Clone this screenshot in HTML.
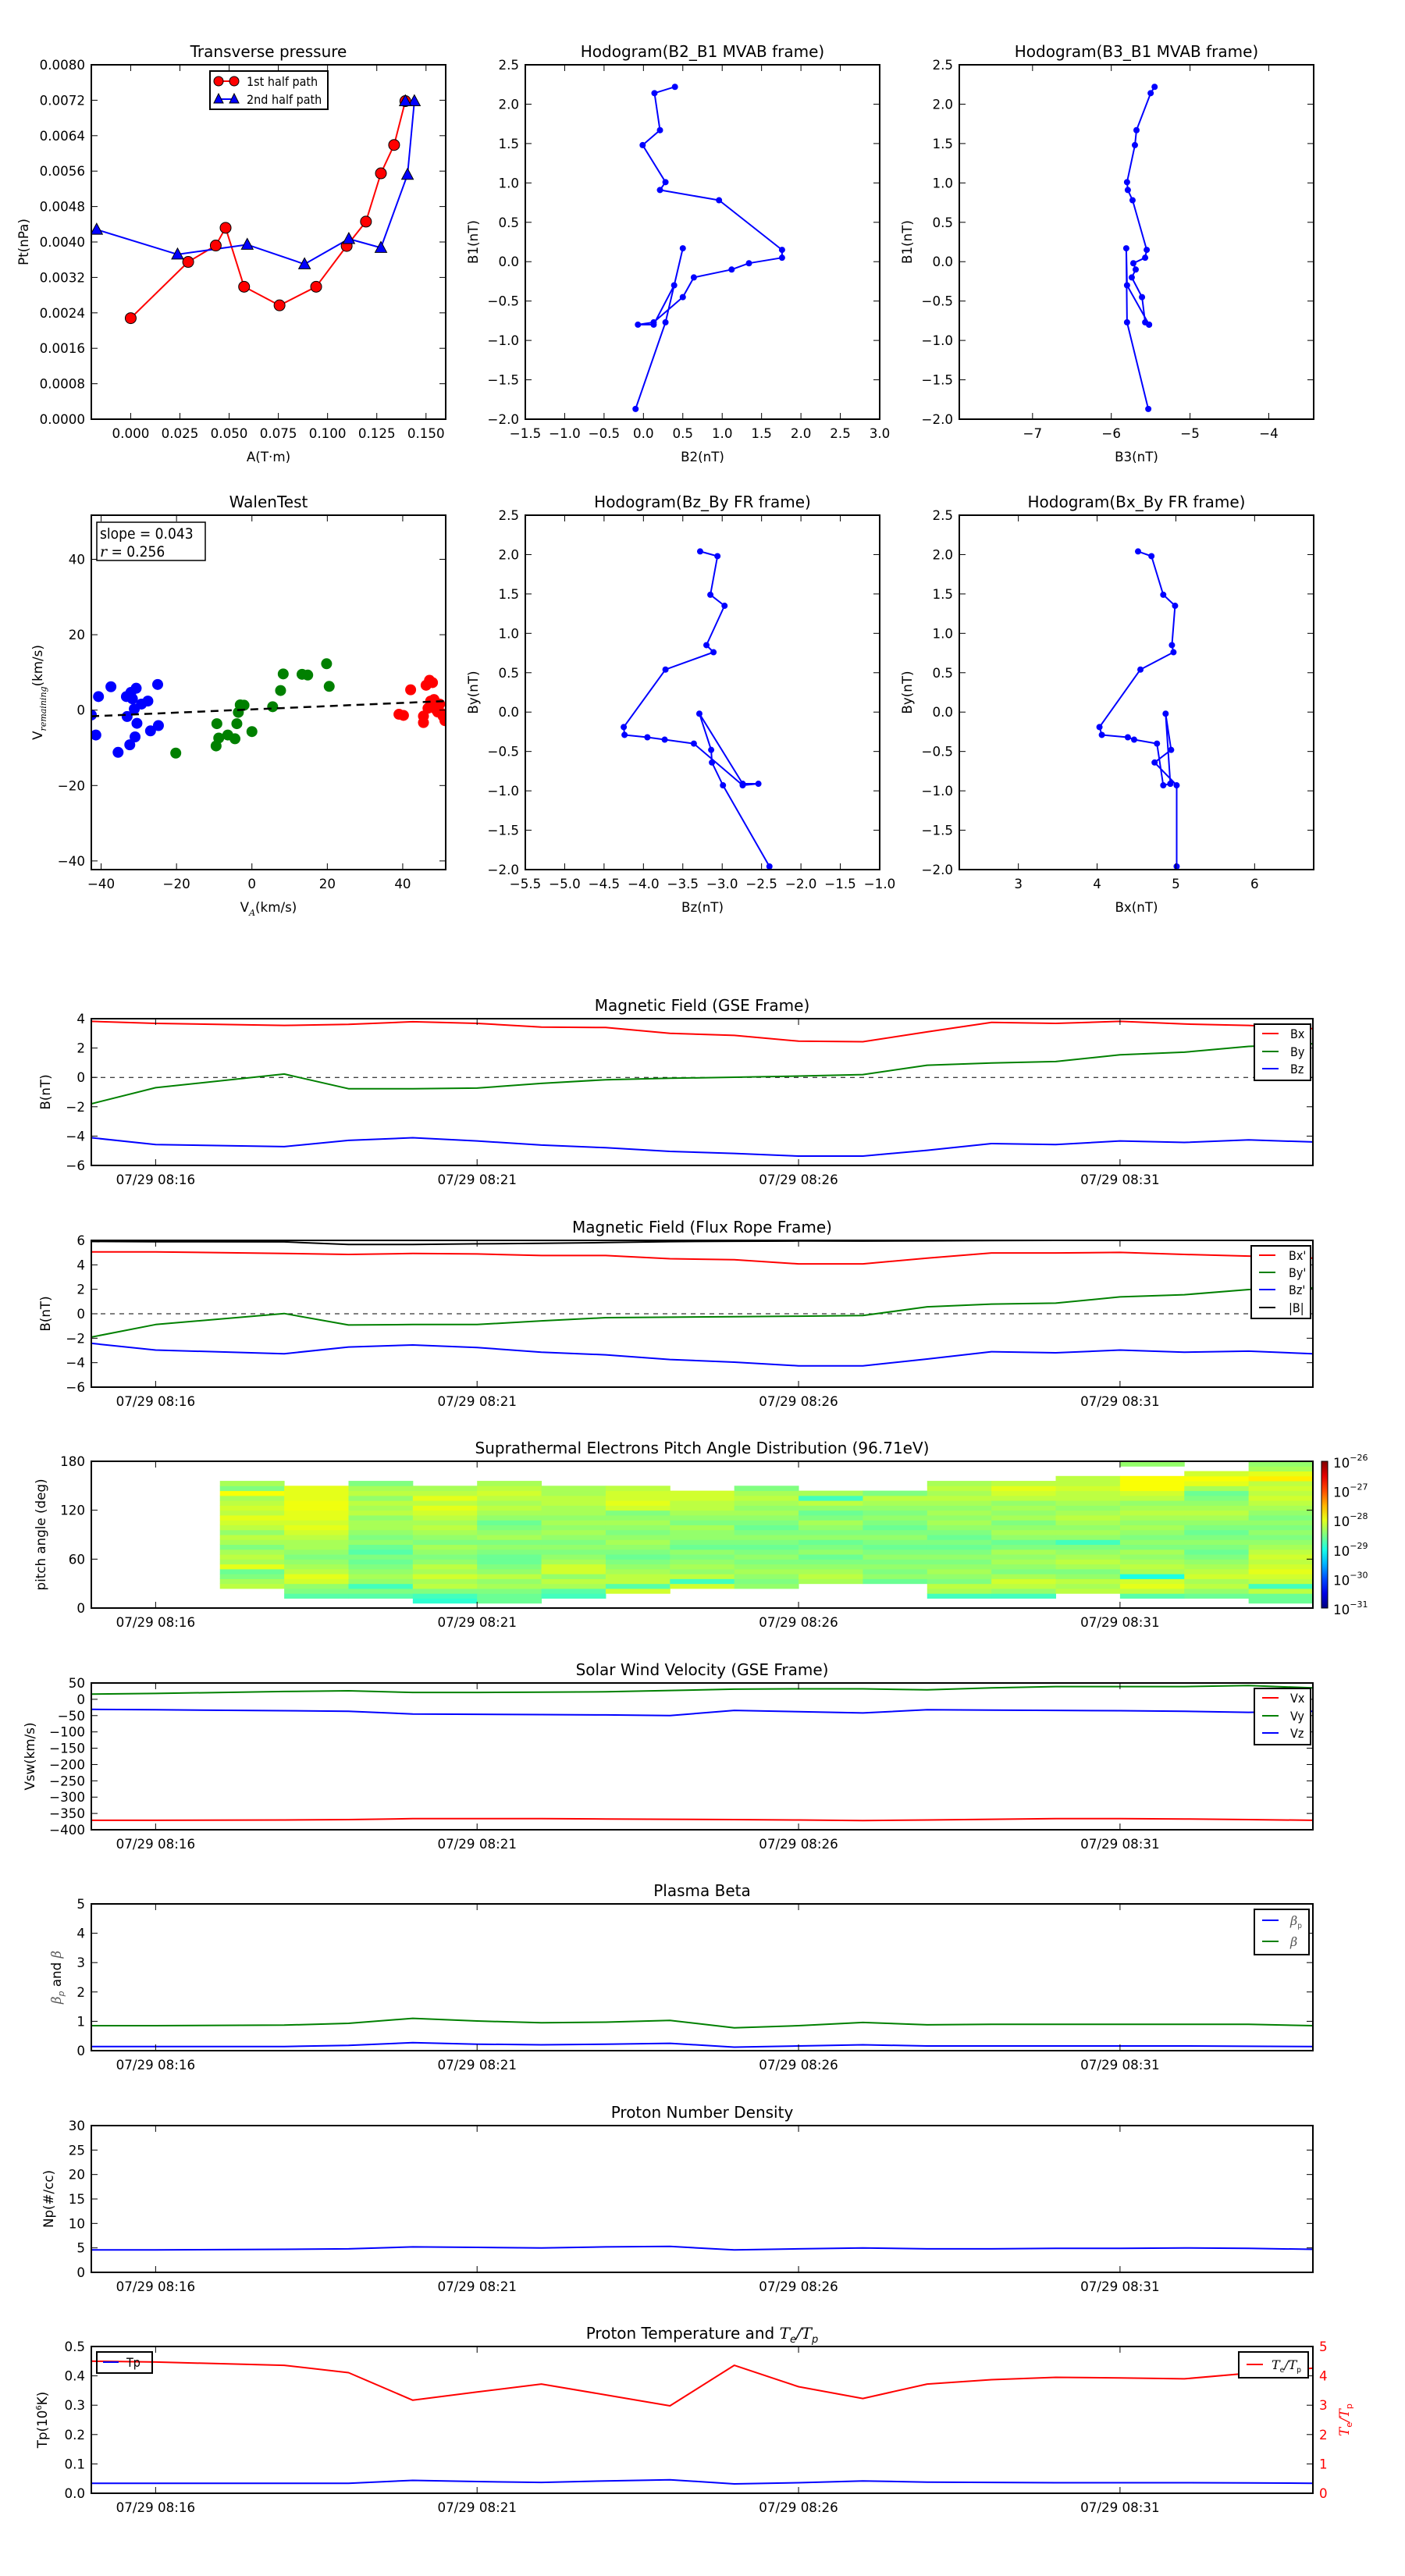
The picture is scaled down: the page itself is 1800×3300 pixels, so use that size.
<!DOCTYPE html>
<html><head><meta charset="utf-8"><title>Flux rope analysis</title>
<style>
html,body{margin:0;padding:0;background:#fff;}
svg{display:block;font-family:"DejaVu Sans","Liberation Sans",sans-serif;}
.tk{font-size:16.7px;}
.tt{font-size:20px;}
.lg{font-family:"DejaVu Sans Condensed","DejaVu Sans",sans-serif;font-size:16px;}
</style></head>
<body>
<svg id="fig" xmlns="http://www.w3.org/2000/svg" width="1800" height="3300" viewBox="0 0 1800 3300"></svg>
<script>
// ---------- data ----------
const pt1A=[0,0.0292,0.0432,0.0482,0.0576,0.0756,0.0942,0.1097,0.1195,0.1271,0.1338,0.1395];
const pt1P=[0.00228,0.00355,0.00392,0.00432,0.00299,0.00257,0.00299,0.00391,0.00446,0.00555,0.00619,0.00718];
const pt2A=[-0.0173,0.0238,0.0592,0.0883,0.1108,0.1271,0.1406,0.1441,0.1395];
const pt2P=[0.00428,0.00372,0.00394,0.00350,0.00407,0.00387,0.00552,0.00718,0.00718];
const mvB1=[2.22,2.14,1.67,1.48,1.01,0.91,0.78,0.15,0.05,-0.02,-0.10,-0.20,-0.45,-0.77,-0.80,-0.80,-0.30,0.17,-0.77,-1.87];
const mvB2=[0.40,0.14,0.21,-0.01,0.28,0.21,0.96,1.76,1.76,1.34,1.12,0.64,0.50,0.13,-0.07,0.13,0.39,0.50,0.28,-0.10];
const mvB3=[-5.45,-5.50,-5.68,-5.70,-5.80,-5.79,-5.73,-5.55,-5.57,-5.72,-5.69,-5.74,-5.61,-5.57,-5.52,-5.52,-5.80,-5.81,-5.80,-5.53];
const frBy=[2.04,1.98,1.49,1.35,0.85,0.76,0.54,-0.19,-0.29,-0.32,-0.35,-0.40,-0.93,-0.91,-0.91,-0.02,-0.48,-0.64,-0.93,-1.96];
const frBz=[-3.28,-3.06,-3.15,-2.97,-3.20,-3.11,-3.72,-4.25,-4.24,-3.95,-3.73,-3.36,-2.74,-2.54,-2.74,-3.29,-3.14,-3.13,-2.99,-2.40];
const frBx=[4.52,4.69,4.84,4.99,4.95,4.97,4.55,4.03,4.06,4.39,4.47,4.76,4.84,4.93,4.93,4.87,4.94,4.73,5.01,5.01];
const wBlueX=[-42.6,-41.4,-40.7,-37.4,-35.5,-33.3,-33.1,-32.4,-32.1,-31.7,-31.2,-31.0,-30.7,-30.5,-29.3,-27.6,-26.9,-25.0,-24.8];
const wBlueY=[-1.3,-6.6,3.6,6.2,-11.2,3.6,-1.7,-9.2,4.7,3.0,0.3,-7.1,5.8,-3.5,1.6,2.4,-5.5,6.8,-4.1];
const wGreenX=[-20.2,-9.5,-9.3,-8.8,-6.4,-4.5,-4.0,-3.6,-3.1,-2.1,0,5.5,7.6,8.3,13.3,14.8,19.8,20.5];
const wGreenY=[-11.4,-9.5,-3.6,-7.4,-6.6,-7.6,-3.6,-0.6,1.4,1.3,-5.7,0.9,5.2,9.6,9.5,9.3,12.3,6.3];
const wRedX=[39.0,40.2,42.1,45.5,45.5,46.2,46.7,47.1,47.4,47.9,48.3,48.8,49.3,49.8,50.2,50.7,51.2];
const wRedY=[-1.1,-1.4,5.4,-1.6,-3.3,6.6,0.5,7.9,2.4,7.3,2.8,0.2,-0.5,1.6,-0.8,-1.6,-2.8];
const walenSlope=0.043, walenIntercept=0.2;
const tMin=[0,1,3,4,5,6,7,8,9,10,11,12,13,14,15,16,17,18,19];
const timeTickMin=[1,6,11,16];
const timeTickLabels=["07/29 08:16","07/29 08:21","07/29 08:26","07/29 08:31"];
const gseBx=[3.82,3.68,3.54,3.61,3.79,3.68,3.43,3.40,3.0,2.86,2.47,2.43,3.1,3.75,3.68,3.82,3.64,3.54,3.32];
const gseBy=[-1.80,-0.70,0.23,-0.77,-0.77,-0.73,-0.41,-0.16,-0.06,0.01,0.09,0.19,0.83,0.98,1.08,1.54,1.72,2.11,2.29];
const gseBz=[-4.11,-4.58,-4.72,-4.29,-4.11,-4.33,-4.61,-4.79,-5.04,-5.18,-5.36,-5.36,-4.97,-4.51,-4.58,-4.33,-4.43,-4.26,-4.40];
const fBx=[5.06,5.06,4.93,4.85,4.93,4.89,4.76,4.76,4.50,4.42,4.08,4.08,4.55,4.97,4.97,5.02,4.85,4.72,4.55];
const fBy=[-1.91,-0.88,0.02,-0.92,-0.88,-0.88,-0.58,-0.32,-0.28,-0.24,-0.20,-0.15,0.57,0.79,0.87,1.38,1.56,1.98,2.11];
const fBz=[-2.42,-2.97,-3.27,-2.72,-2.55,-2.76,-3.15,-3.36,-3.74,-3.96,-4.26,-4.26,-3.70,-3.10,-3.19,-2.97,-3.15,-3.06,-3.27];
const fBt=[5.91,5.89,5.88,5.66,5.66,5.72,5.76,5.82,5.90,5.93,5.95,5.94,5.96,5.99,6.0,6.02,6.03,6.02,6.02];
const vx=[-371,-371,-370,-369,-366,-366,-366,-367,-368,-369,-370,-372,-370,-368,-366,-366,-367,-369,-371];
const vy=[16,18,24,26,21,21,22,23,27,31,32,32,29,35,39,39,39,42,35];
const vz=[-31,-32,-35,-37,-45,-46,-47,-48,-50,-34,-38,-42,-32,-33,-34,-35,-37,-40,-37];
const betaP=[0.14,0.14,0.14,0.18,0.27,0.22,0.20,0.22,0.25,0.12,0.16,0.20,0.16,0.16,0.16,0.16,0.16,0.15,0.14];
const betaT=[0.85,0.85,0.87,0.93,1.10,1.01,0.95,0.97,1.03,0.78,0.85,0.96,0.88,0.90,0.90,0.90,0.90,0.90,0.85];
const np=[4.6,4.6,4.7,4.8,5.2,5.1,5.0,5.2,5.3,4.6,4.8,5.0,4.8,4.8,4.9,4.9,5.0,4.9,4.7];
const tp=[0.034,0.034,0.034,0.034,0.044,0.040,0.037,0.042,0.046,0.032,0.036,0.042,0.038,0.037,0.036,0.036,0.036,0.035,0.034];
const teTp=[4.50,4.47,4.36,4.11,3.17,3.45,3.72,3.35,2.98,4.36,3.63,3.23,3.72,3.87,3.95,3.93,3.90,4.09,4.26];
// pitch angle: column start minute, lowest bin edge (deg), log10 flux per 6-deg bin bottom->top
const padStart=[2,3,4,5,6,7,8,9,10,11,12,13,14,15,16,17,18];
const padLo=[24,12,12,6,6,12,18,24,24,30,30,12,12,18,12,12,6];
const padVals=[
[-28.2,-28.3,-28.5,-28.6,-28.0,-28.3,-28.2,-28.3,-28.5,-28.3,-28.2,-28.4,-28.2,-28.1,-28.0,-28.2,-28.1,-28.2,-28.3,-27.9,-28.5,-28.3],
[-28.7,-28.5,-28.4,-28.1,-28.0,-28.2,-28.3,-28.4,-28.5,-28.4,-28.3,-28.3,-28.2,-28.1,-28.0,-28.1,-28.0,-28.0,-27.95,-27.95,-28.0,-28.0,-28.0],
[-28.7,-28.5,-28.8,-28.4,-28.3,-28.4,-28.5,-28.6,-28.5,-28.7,-28.6,-28.4,-28.5,-28.4,-28.3,-28.3,-28.4,-28.2,-28.3,-28.2,-28.4,-28.2,-28.3,-28.5],
[-28.9,-28.8,-28.5,-28.2,-28.3,-28.1,-28.3,-28.2,-28.4,-28.5,-28.4,-28.3,-28.5,-28.4,-28.3,-28.2,-28.3,-28.2,-28.1,-28.0,-28.2,-28.0,-28.2,-28.3],
[-28.6,-28.6,-28.5,-28.3,-28.4,-28.2,-28.4,-28.5,-28.6,-28.6,-28.5,-28.4,-28.5,-28.3,-28.4,-28.5,-28.6,-28.4,-28.3,-28.2,-28.3,-28.2,-28.1,-28.2,-28.3],
[-28.8,-28.7,-28.3,-28.2,-28.4,-28.1,-28.1,-28.3,-28.4,-28.5,-28.4,-28.5,-28.4,-28.3,-28.4,-28.3,-28.4,-28.3,-28.3,-28.2,-28.2,-28.3,-28.3],
[-28.1,-28.7,-28.2,-28.2,-28.3,-28.4,-28.5,-28.6,-28.5,-28.4,-28.3,-28.4,-28.5,-28.4,-28.3,-28.4,-28.5,-28.1,-28.0,-28.1,-28.1,-28.2],
[-28.1,-28.8,-28.2,-28.4,-28.3,-28.4,-28.5,-28.4,-28.6,-28.5,-28.4,-28.4,-28.3,-28.5,-28.4,-28.3,-28.2,-28.2,-28.1,-28.1],
[-28.4,-28.5,-28.4,-28.3,-28.4,-28.5,-28.4,-28.5,-28.6,-28.5,-28.4,-28.5,-28.6,-28.5,-28.4,-28.3,-28.4,-28.3,-28.2,-28.3,-28.5],
[-28.3,-28.2,-28.3,-28.4,-28.5,-28.6,-28.4,-28.5,-28.6,-28.4,-28.5,-28.4,-28.3,-28.5,-28.6,-28.4,-28.2,-28.8,-28.3],
[-28.6,-28.4,-28.5,-28.4,-28.5,-28.4,-28.5,-28.6,-28.5,-28.4,-28.5,-28.6,-28.5,-28.4,-28.5,-28.4,-28.3,-28.2,-28.5],
[-28.8,-28.3,-28.2,-28.5,-28.4,-28.3,-28.4,-28.5,-28.4,-28.5,-28.6,-28.5,-28.6,-28.5,-28.4,-28.3,-28.4,-28.3,-28.4,-28.3,-28.2,-28.3,-28.2,-28.3],
[-28.8,-28.4,-28.2,-28.1,-28.3,-28.5,-28.4,-28.3,-28.4,-28.3,-28.5,-28.6,-28.4,-28.3,-28.4,-28.5,-28.3,-28.4,-28.3,-28.4,-28.2,-28.1,-28.0,-28.2],
[-28.2,-28.3,-28.2,-28.4,-28.5,-28.3,-28.2,-28.3,-28.4,-28.5,-28.8,-28.4,-28.3,-28.4,-28.3,-28.2,-28.3,-28.4,-28.3,-28.2,-28.2,-28.1,-28.2,-28.2],
[-28.7,-28.2,-28.0,-28.1,-29.0,-28.3,-28.2,-28.3,-28.4,-28.3,-28.5,-28.4,-28.5,-28.4,-28.3,-28.4,-28.3,-28.2,-28.3,-28.4,-28.2,-28.1,-27.9,-27.9,-27.9,null,null,-28.4],
[-28.6,-28.4,-28.2,-28.3,-28.1,-28.2,-28.3,-28.4,-28.5,-28.6,-28.5,-28.4,-28.5,-28.6,-28.5,-28.4,-28.3,-28.2,-28.3,-28.4,-28.5,-28.6,-28.3,-28.0,-27.9,-28.1],
[-28.6,-28.6,-28.2,-28.8,-28.2,-28.1,-28.0,-28.1,-28.2,-28.1,-28.2,-28.3,-28.4,-28.5,-28.4,-28.5,-28.4,-28.5,-28.4,-28.3,-28.2,-28.1,-28.2,-28.1,-28.2,-27.8,-28.0,-28.3,-28.4]];
const cbTicks=[-26,-27,-28,-29,-30,-31];

// ---------- helpers ----------
const NS='http://www.w3.org/2000/svg';
const svg=document.getElementById('fig');
let clipId=0;
function mk(tag,attrs,parent){const e=document.createElementNS(NS,tag);for(const k in attrs)e.setAttribute(k,attrs[k]);(parent||svg).appendChild(e);return e;}
function fmt(v,d){let s=v.toFixed(d);if(v<0&&parseFloat(s)!==0)s='\u2212'+s.slice(1);else if(parseFloat(s)===0)s=(0).toFixed(d);return s;}
function makeAxes(name,x0,y0,w,h,xmin,xmax,ymin,ymax){
  const g=mk('g',{});
  
  
  const id='c'+(clipId++);
  const cp=mk('clipPath',{id:id},g);
  mk('rect',{x:x0,y:y0,width:w,height:h},cp);
  const plot=mk('g',{'clip-path':'url(#'+id+')'},g);
  
  
  return {g,plot,x0,y0,w,h,sx:v=>x0+(v-xmin)/(xmax-xmin)*w,sy:v=>y0+h-(v-ymin)/(ymax-ymin)*h};
}
function frame(ax,name){
  const r=mk('rect',{x:ax.x0,y:ax.y0,width:ax.w,height:ax.h,fill:'none',stroke:'#000','stroke-width':2},ax.g);
  
  
}
function xTicks(ax,vals,labels,name,noTop){
  const g=mk('g',{},ax.g);
  
  
  vals.forEach((v,i)=>{
    const x=ax.sx(v);
    mk('line',{x1:x,x2:x,y1:ax.y0+ax.h,y2:ax.y0+ax.h-8,stroke:'#000','stroke-width':1},g);
    if(!noTop)mk('line',{x1:x,x2:x,y1:ax.y0,y2:ax.y0+8,stroke:'#000','stroke-width':1},g);
    const t=mk('text',{x:x,y:ax.y0+ax.h+24,'text-anchor':'middle',class:'tk'},g);
    t.textContent=labels[i];
  });
}
function yTicks(ax,vals,labels,name,opts){
  opts=opts||{};
  const g=mk('g',{},ax.g);
  
  
  vals.forEach((v,i)=>{
    const y=ax.sy(v);
    mk('line',{x1:ax.x0,x2:ax.x0+8,y1:y,y2:y,stroke:'#000','stroke-width':1},g);
    if(!opts.noRight)mk('line',{x1:ax.x0+ax.w,x2:ax.x0+ax.w-8,y1:y,y2:y,stroke:'#000','stroke-width':1},g);
    const t=mk('text',{x:ax.x0-8,y:y+6,'text-anchor':'end',class:'tk'},g);
    t.textContent=labels[i];
  });
}
function title(ax,txt,name,dy){
  const t=mk('text',{x:ax.x0+ax.w/2,y:ax.y0-(dy||10),'text-anchor':'middle',class:'tt'},ax.g);
  t.textContent=txt;
  
  
  return t;
}
function xLabel(ax,txt,name){
  const t=mk('text',{x:ax.x0+ax.w/2,y:ax.y0+ax.h+54,'text-anchor':'middle',class:'tk'},ax.g);
  t.textContent=txt;
  
  
  return t;
}
function yLabel(ax,txt,name,x){
  const cy=ax.y0+ax.h/2;
  const t=mk('text',{x:x,y:cy,'text-anchor':'middle',class:'tk',transform:'rotate(-90 '+x+' '+cy+')'},ax.g);
  t.textContent=txt;
  
  
  return t;
}
function line(ax,xs,ys,color,name,w,dash){
  const pts=xs.map((x,i)=>ax.sx(x).toFixed(1)+','+ax.sy(ys[i]).toFixed(1)).join(' ');
  const p=mk('polyline',{points:pts,fill:'none',stroke:color,'stroke-width':w||2,'stroke-linejoin':'round'},ax.plot);
  if(dash)p.setAttribute('stroke-dasharray',dash);
  
  
  return p;
}
function dots(ax,xs,ys,color,name,r,edge){
  const g=mk('g',{},ax.plot);
  
  
  xs.forEach((x,i)=>{
    const c=mk('circle',{cx:ax.sx(x),cy:ax.sy(ys[i]),r:r,fill:color},g);
    if(edge){c.setAttribute('stroke','#000');c.setAttribute('stroke-width',1);}
  });
}
function tris(ax,xs,ys,color,name){
  const g=mk('g',{},ax.plot);
  
  
  xs.forEach((x,i)=>{
    const cx=ax.sx(x),cy=ax.sy(ys[i]);
    mk('polygon',{points:(cx)+','+(cy-8)+' '+(cx-7.5)+','+(cy+6)+' '+(cx+7.5)+','+(cy+6),fill:color,stroke:'#000','stroke-width':1},g);
  });
}
function legend(parent,x,y,w,h,entries,name){
  const g=mk('g',{},parent);
  
  
  mk('rect',{x:x,y:y,width:w,height:h,fill:'#fff',stroke:'#000','stroke-width':2},g);
  entries.forEach((e,i)=>{
    const ey=y+e.dy;
    const eg=mk('g',{},g);
    
    
    mk('line',{x1:x+10,x2:x+31,y1:ey,y2:ey,stroke:e.color,'stroke-width':2},eg);
    const t=mk('text',{x:x+e.tx,y:ey+6,class:'lg'},eg);
    if(e.html)t.innerHTML=e.html;else t.textContent=e.label;
  });
  return g;
}
function range(a,b,s){const r=[];for(let v=a;v<=b+1e-9;v+=s)r.push(Math.round(v*1e6)/1e6);return r;}

// ---------- row 1 ----------
const C1=117,C2=673,C3=1229,CW=454,R1=83,RH=454,R2=660;
{
const ax=makeAxes('transverse-pressure-chart',C1,R1,CW,RH,-0.02,0.16,0,0.008);
const xt=range(0,0.15,0.025);xTicks(ax,xt,xt.map(v=>v.toFixed(3)),'transverse-pressure');
const yt=range(0,0.008,0.0008);yTicks(ax,yt,yt.map(v=>v.toFixed(4)),'transverse-pressure');
title(ax,'Transverse pressure','transverse-pressure');
xLabel(ax,'A(T\u00b7m)','transverse-pressure');
yLabel(ax,'Pt(nPa)','transverse-pressure',36);
line(ax,pt1A,pt1P,'#ff0000','first-half-path-line',2);
line(ax,pt2A,pt2P,'#0000ff','second-half-path-line',2);
dots(ax,pt1A,pt1P,'#ff0000','first-half-path-markers',7,true);
tris(ax,pt2A,pt2P,'#0000ff','second-half-path-markers');
frame(ax,'transverse-pressure');
const lg=mk('g',{},ax.g);


mk('rect',{x:269,y:91,width:151,height:49,fill:'#fff',stroke:'#000','stroke-width':2},lg);
mk('line',{x1:280,x2:300,y1:104,y2:104,stroke:'#ff0000','stroke-width':2},lg);
mk('circle',{cx:280,cy:104,r:6,fill:'#ff0000',stroke:'#000'},lg);
mk('circle',{cx:300,cy:104,r:6,fill:'#ff0000',stroke:'#000'},lg);
const t1=mk('text',{x:316,y:110,class:'lg'},lg);t1.textContent='1st half path';


mk('line',{x1:280,x2:300,y1:127,y2:127,stroke:'#0000ff','stroke-width':2},lg);
mk('polygon',{points:'280,120 274,132 286,132',fill:'#0000ff',stroke:'#000'},lg);
mk('polygon',{points:'300,120 294,132 306,132',fill:'#0000ff',stroke:'#000'},lg);
const t2=mk('text',{x:316,y:133,class:'lg'},lg);t2.textContent='2nd half path';


}
{
const ax=makeAxes('hodogram-b2-b1-chart',C2,R1,CW,RH,-1.5,3.0,-2.0,2.5);
const xt=range(-1.5,3.0,0.5);xTicks(ax,xt,xt.map(v=>fmt(v,1)),'hodogram-b2-b1');
const yt=range(-2.0,2.5,0.5);yTicks(ax,yt,yt.map(v=>fmt(v,1)),'hodogram-b2-b1');
title(ax,'Hodogram(B2_B1 MVAB frame)','hodogram-b2-b1');
xLabel(ax,'B2(nT)','hodogram-b2-b1');yLabel(ax,'B1(nT)','hodogram-b2-b1',612);
line(ax,mvB2,mvB1,'#0000ff','hodogram-b2-b1-line',2);
dots(ax,mvB2,mvB1,'#0000ff','hodogram-b2-b1-points',4);
frame(ax,'hodogram-b2-b1');
}
{
const ax=makeAxes('hodogram-b3-b1-chart',C3,R1,CW,RH,-7.93,-3.43,-2.0,2.5);
const xt=[-7,-6,-5,-4];xTicks(ax,xt,xt.map(v=>fmt(v,0)),'hodogram-b3-b1');
const yt=range(-2.0,2.5,0.5);yTicks(ax,yt,yt.map(v=>fmt(v,1)),'hodogram-b3-b1');
title(ax,'Hodogram(B3_B1 MVAB frame)','hodogram-b3-b1');
xLabel(ax,'B3(nT)','hodogram-b3-b1');yLabel(ax,'B1(nT)','hodogram-b3-b1',1168);
line(ax,mvB3,mvB1,'#0000ff','hodogram-b3-b1-line',2);
dots(ax,mvB3,mvB1,'#0000ff','hodogram-b3-b1-points',4);
frame(ax,'hodogram-b3-b1');
}
// ---------- row 2 ----------
{
const ax=makeAxes('walen-test-chart',C1,R2,CW,RH,-42.6,51.4,-42.3,51.7);
const xt=[-40,-20,0,20,40];xTicks(ax,xt,xt.map(v=>fmt(v,0)),'walen-test');
const yt=[-40,-20,0,20,40];yTicks(ax,yt,yt.map(v=>fmt(v,0)),'walen-test');
title(ax,'WalenTest','walen-test');
const xl=xLabel(ax,'','walen-test');
xl.innerHTML='V<tspan font-size="11" dy="5" font-style="italic" font-family="DejaVu Serif">A</tspan><tspan dy="-5">(km/s)</tspan>';
const yl=yLabel(ax,'','walen-test',54);
yl.innerHTML='V<tspan font-size="11" dy="5" font-style="italic" font-family="DejaVu Serif">remaining</tspan><tspan dy="-5">(km/s)</tspan>';
dots(ax,wBlueX,wBlueY,'#0000ff','walen-points-first',7);
dots(ax,wGreenX,wGreenY,'#008000','walen-points-middle',7);
dots(ax,wRedX,wRedY,'#ff0000','walen-points-last',7);
const fx=[-42.6,51.4];const fy=fx.map(v=>walenSlope*v+walenIntercept);
line(ax,fx,fy,'#000','walen-fit-line',2.5,'10,7');
frame(ax,'walen-test');
const bx=mk('g',{},ax.g);


mk('rect',{x:124,y:669,width:139,height:49,fill:'#fff',stroke:'#000','stroke-width':1.5},bx);
const s1=mk('text',{x:128,y:690,class:'lg',style:'font-size:19px'},bx);s1.textContent='slope = 0.043';
const s2=mk('text',{x:128,y:713,class:'lg',style:'font-size:19px'},bx);
s2.innerHTML='<tspan font-style="italic" font-family="DejaVu Serif">r</tspan> = 0.256';
}
{
const ax=makeAxes('hodogram-bz-by-chart',C2,R2,CW,RH,-5.5,-1.0,-2.0,2.5);
const xt=range(-5.5,-1.0,0.5);xTicks(ax,xt,xt.map(v=>fmt(v,1)),'hodogram-bz-by');
const yt=range(-2.0,2.5,0.5);yTicks(ax,yt,yt.map(v=>fmt(v,1)),'hodogram-bz-by');
title(ax,'Hodogram(Bz_By FR frame)','hodogram-bz-by');
xLabel(ax,'Bz(nT)','hodogram-bz-by');yLabel(ax,'By(nT)','hodogram-bz-by',612);
line(ax,frBz,frBy,'#0000ff','hodogram-bz-by-line',2);
dots(ax,frBz,frBy,'#0000ff','hodogram-bz-by-points',4);
frame(ax,'hodogram-bz-by');
}
{
const ax=makeAxes('hodogram-bx-by-chart',C3,R2,CW,RH,2.25,6.75,-2.0,2.5);
const xt=[3,4,5,6];xTicks(ax,xt,xt.map(v=>fmt(v,0)),'hodogram-bx-by');
const yt=range(-2.0,2.5,0.5);yTicks(ax,yt,yt.map(v=>fmt(v,1)),'hodogram-bx-by');
title(ax,'Hodogram(Bx_By FR frame)','hodogram-bx-by');
xLabel(ax,'Bx(nT)','hodogram-bx-by');yLabel(ax,'By(nT)','hodogram-bx-by',1168);
line(ax,frBx,frBy,'#0000ff','hodogram-bx-by-line',2);
dots(ax,frBx,frBy,'#0000ff','hodogram-bx-by-points',4);
frame(ax,'hodogram-bx-by');
}
// ---------- time series ----------
const TX=117,TW=1565,TH=188;
const tops=[1305,1589,1872,2156,2439,2723,3006];
function ts(name,top,ymin,ymax,yt,ylab,ttl,ylx,dec,noRight){
  const ax=makeAxes(name+'-chart',TX,top,TW,TH,0,19,ymin,ymax);
  xTicks(ax,timeTickMin,timeTickLabels,name);
  yTicks(ax,yt,yt.map(v=>fmt(v,dec||0)),name,{noRight:noRight});
  title(ax,ttl,name,10);
  if(ylab)yLabel(ax,ylab,name,ylx);
  return ax;
}
{
const ax=ts('magnetic-field-gse',tops[0],-6,4,[-6,-4,-2,0,2,4],'B(nT)','Magnetic Field (GSE Frame)',64);
line(ax,[0,19],[0,0],'#000','gse-zero-line',1,'6,6');
line(ax,tMin,gseBx,'#ff0000','gse-bx-line');
line(ax,tMin,gseBy,'#008000','gse-by-line');
line(ax,tMin,gseBz,'#0000ff','gse-bz-line');
frame(ax,'magnetic-field-gse');
legend(ax.g,1607,1312,72,72,[{key:'bx',label:'Bx',color:'#ff0000',dy:12,tx:46},{key:'by',label:'By',color:'#008000',dy:35,tx:46},{key:'bz',label:'Bz',color:'#0000ff',dy:57,tx:46}],'gse-legend');
}
{
const ax=ts('magnetic-field-flux-rope',tops[1],-6,6,[-6,-4,-2,0,2,4,6],'B(nT)','Magnetic Field (Flux Rope Frame)',64);
line(ax,[0,19],[0,0],'#000','fr-zero-line',1,'6,6');
line(ax,tMin,fBx,'#ff0000','fr-bx-line');
line(ax,tMin,fBy,'#008000','fr-by-line');
line(ax,tMin,fBz,'#0000ff','fr-bz-line');
line(ax,tMin,fBt,'#000000','fr-btotal-line');
frame(ax,'magnetic-field-flux-rope');
legend(ax.g,1603,1596,76,93,[{key:'bx-prime',label:"Bx'",color:'#ff0000',dy:12,tx:48},{key:'by-prime',label:"By'",color:'#008000',dy:34,tx:48},{key:'bz-prime',label:"Bz'",color:'#0000ff',dy:56,tx:48},{key:'btotal',label:'|B|',color:'#000000',dy:79,tx:48}],'fr-legend');
}
function jet(x){const c=v=>Math.round(255*Math.max(0,Math.min(1,v)));return 'rgb('+c(1.5-Math.abs(4*x-3))+','+c(1.5-Math.abs(4*x-2))+','+c(1.5-Math.abs(4*x-1))+')';}
{
const ax=ts('pitch-angle-distribution',tops[2],0,180,[0,60,120,180],'pitch angle (deg)','Suprathermal Electrons Pitch Angle Distribution (96.71eV)',58);
const hg=mk('g',{},ax.plot);


padStart.forEach((t0,ci)=>{
  padVals[ci].forEach((v,bi)=>{
    if(v===null)return;
    const lo=padLo[ci]+bi*6;
    const x1=ax.sx(t0),x2=ax.sx(t0+1),y1=ax.sy(lo+6),y2=ax.sy(lo);
    const r=mk('rect',{x:x1,y:y1,width:x2-x1+0.5,height:y2-y1+0.5,fill:jet((v+31)/5)},hg);
    
    
  });
});
frame(ax,'pitch-angle-distribution');
const cb=mk('g',{},ax.g);


const gr=mk('linearGradient',{id:'jetg',x1:0,y1:1,x2:0,y2:0},cb);
for(let i=0;i<=10;i++)mk('stop',{offset:i/10,'stop-color':jet(i/10)},gr);
mk('rect',{x:1693,y:tops[2],width:8,height:TH,fill:'url(#jetg)',stroke:'#000','stroke-width':1},cb);
cbTicks.forEach(v=>{
  const y=tops[2]+(-26-v)/5*TH;
  const t=mk('text',{x:1708,y:y+8,class:'tk'},cb);
  t.innerHTML='10<tspan font-size="11" dy="-9">'+'\u2212'+Math.abs(v)+'</tspan>';
});
}
{
const yt=range(-400,50,50);
const ax=ts('solar-wind-velocity',tops[3],-400,50,yt,'Vsw(km/s)','Solar Wind Velocity (GSE Frame)',44);
line(ax,tMin,vx,'#ff0000','vx-line');
line(ax,tMin,vy,'#008000','vy-line');
line(ax,tMin,vz,'#0000ff','vz-line');
frame(ax,'solar-wind-velocity');
legend(ax.g,1607,2163,72,72,[{key:'vx',label:'Vx',color:'#ff0000',dy:12,tx:46},{key:'vy',label:'Vy',color:'#008000',dy:35,tx:46},{key:'vz',label:'Vz',color:'#0000ff',dy:57,tx:46}],'velocity-legend');
}
{
const ax=ts('plasma-beta',tops[4],0,5,[0,1,2,3,4,5],'','Plasma Beta',0);
const yl=yLabel(ax,'','plasma-beta',78);
yl.innerHTML='<tspan font-family="DejaVu Serif" font-style="italic" fill="#555">\u03b2</tspan><tspan font-size="11" dy="4" font-style="italic" fill="#555">p</tspan><tspan dy="-4"> and </tspan><tspan font-family="DejaVu Serif" font-style="italic" fill="#555">\u03b2</tspan>';
line(ax,tMin,betaP,'#0000ff','beta-p-line');
line(ax,tMin,betaT,'#008000','beta-total-line');
frame(ax,'plasma-beta');
legend(ax.g,1607,2446,70,58,[{key:'beta-p',html:'<tspan font-family="DejaVu Serif" font-style="italic" fill="#555">\u03b2</tspan><tspan font-size="10" dy="4" fill="#555">p</tspan>',color:'#0000ff',dy:14,tx:46},{key:'beta',html:'<tspan font-family="DejaVu Serif" font-style="italic" fill="#555">\u03b2</tspan>',color:'#008000',dy:41,tx:46}],'beta-legend');
}
{
const ax=ts('proton-density',tops[5],0,30,[0,5,10,15,20,25,30],'Np(#/cc)','Proton Number Density',68);
line(ax,tMin,np,'#0000ff','np-line');
frame(ax,'proton-density');
}
{
const ax=ts('proton-temperature',tops[6],0,0.5,[0,0.1,0.2,0.3,0.4,0.5],'','',0,1,true);
const tt=title(ax,'','proton-temperature',10);
tt.innerHTML='Proton Temperature and <tspan font-family="DejaVu Serif" font-style="italic">T</tspan><tspan font-size="13" dy="5" font-style="italic">e</tspan><tspan dy="-5" font-family="DejaVu Serif" font-style="italic">/T</tspan><tspan font-size="13" dy="5" font-style="italic">p</tspan>';
const yl=yLabel(ax,'','proton-temperature',60);
yl.innerHTML='Tp(10<tspan font-size="10" dy="-7">6</tspan><tspan dy="7">K)</tspan>';
const sr=v=>ax.y0+ax.h-v/5*ax.h;
const axR={plot:ax.plot,sx:ax.sx,sy:sr};
line(ax,tMin,tp,'#0000ff','tp-line');
line(axR,tMin,teTp,'#ff0000','te-tp-ratio-line');
frame(ax,'proton-temperature');
const rg=mk('g',{},ax.g);


[0,1,2,3,4,5].forEach(v=>{
  mk('line',{x1:ax.x0+ax.w,x2:ax.x0+ax.w-8,y1:sr(v),y2:sr(v),stroke:'#000','stroke-width':1},rg);
  const t=mk('text',{x:1690,y:sr(v)+6,class:'tk',style:'fill:#ff0000'},rg);
  t.textContent=String(v);
});
const rl=mk('text',{x:1728,y:ax.y0+ax.h/2,'text-anchor':'middle',class:'tk',style:'fill:#ff0000',transform:'rotate(-90 1728 '+(ax.y0+ax.h/2)+')'},rg);
rl.innerHTML='<tspan font-family="DejaVu Serif" font-style="italic">T</tspan><tspan font-size="11" dy="4">e</tspan><tspan dy="-4" font-family="DejaVu Serif" font-style="italic">/T</tspan><tspan font-size="11" dy="4">p</tspan>';
const l1=mk('g',{},ax.g);


mk('rect',{x:124,y:3013,width:71,height:27,fill:'none',stroke:'#000','stroke-width':2},l1);
mk('line',{x1:132,x2:152,y1:3026,y2:3026,stroke:'#0000ff','stroke-width':2},l1);
const lt=mk('text',{x:162,y:3032,class:'lg'},l1);lt.textContent='Tp';
legend(ax.g,1587,3013,89,33,[{key:'te-tp',html:'<tspan font-family="DejaVu Serif" font-style="italic">T</tspan><tspan font-size="10" dy="4">e</tspan><tspan dy="-4" font-family="DejaVu Serif" font-style="italic">/T</tspan><tspan font-size="10" dy="4">p</tspan>',color:'#ff0000',dy:16,tx:42}],'te-tp-legend');
}
</script>
</body></html>
